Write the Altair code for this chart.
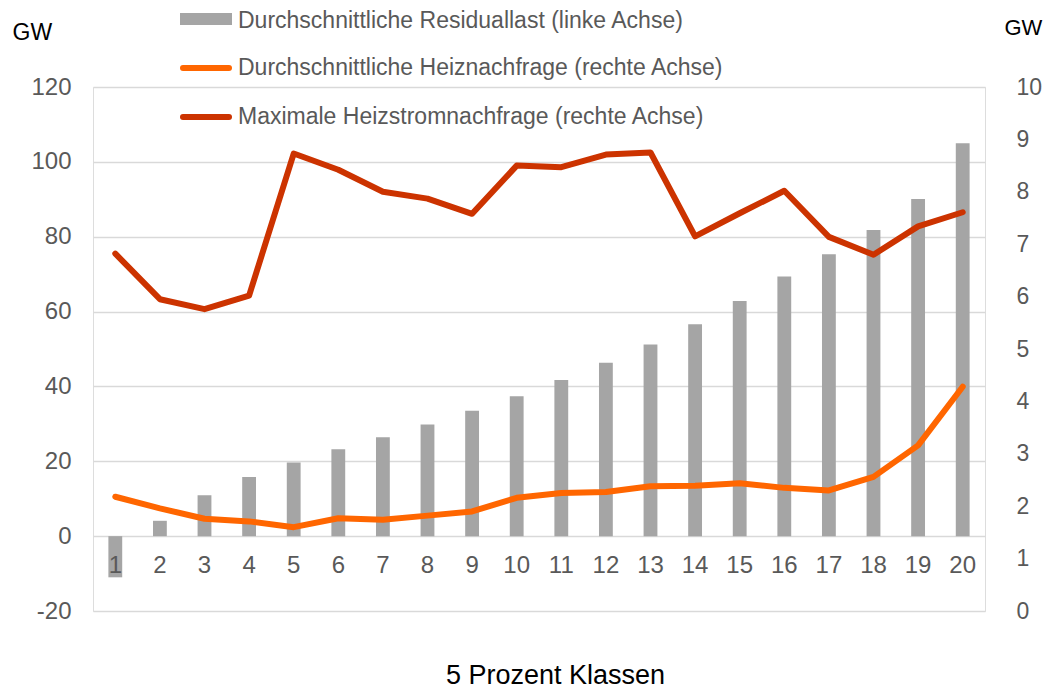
import altair as alt
import pandas as pd

# ---- data ----
classes = list(range(1, 21))
residual_load = [-11.0, 4.1, 10.9, 15.8, 19.7, 23.2, 26.4, 29.8, 33.5, 37.4,
                 41.7, 46.3, 51.2, 56.6, 62.8, 69.4, 75.3, 81.8, 90.1, 105.0]
heat_avg = [2.18, 1.96, 1.76, 1.71, 1.60, 1.77, 1.74, 1.82, 1.90, 2.16,
            2.25, 2.27, 2.38, 2.39, 2.44, 2.35, 2.30, 2.56, 3.16, 4.28]
heat_max = [6.82, 5.95, 5.76, 6.02, 8.73, 8.42, 8.00, 7.87, 7.58, 8.50,
            8.47, 8.71, 8.75, 7.15, 7.59, 8.02, 7.14, 6.80, 7.34, 7.61]
left_ticks = [-20, 0, 20, 40, 60, 80, 100, 120]
right_ticks = list(range(0, 11))

name_bar = "Durchschnittliche Residuallast (linke Achse)"
name_avg = "Durchschnittliche Heiznachfrage (rechte Achse)"
name_max = "Maximale Heizstromnachfrage (rechte Achse)"

C_BAR = "#A5A5A5"
C_AVG = "#FF6600"
C_MAX = "#CC3300"
FONT = "Liberation Sans"
GRAY = "#595959"

bars_df = pd.DataFrame({"cls": classes, "residual": residual_load})
lines_df = pd.DataFrame({
    "cls": classes * 2,
    "value": heat_avg + heat_max,
    "series": [name_avg] * 20 + [name_max] * 20,
})

x_enc = alt.X(
    "cls:O",
    scale=alt.Scale(paddingInner=0.69, paddingOuter=0.345),
    axis=alt.Axis(
        title="5 Prozent Klassen", labelAngle=0, labelFontSize=24, labelColor=GRAY,
        labelFont=FONT, domain=False, ticks=False, tickSize=0, labelPadding=29,
        labelBaseline="middle", offset=-75, zindex=1, grid=False,
        titleFont=FONT, titleFontSize=27, titleFontWeight="normal", titleColor="#000000",
        titleX=462, titleY=147, titleBaseline="alphabetic", titleAlign="center",
    ),
)

bars = alt.Chart(bars_df).mark_bar(color=C_BAR).encode(
    x=x_enc,
    y=alt.Y(
        "residual:Q",
        scale=alt.Scale(domain=[-20, 120], nice=False),
        axis=alt.Axis(
            values=left_ticks, title="GW", titleAngle=0, titleAlign="left",
            titleBaseline="middle", titleX=-81, titleY=-55, titleFont=FONT,
            titleFontSize=23, titleFontWeight="normal", titleColor="#000000",
            labelFont=FONT, labelFontSize=24, labelColor=GRAY, labelPadding=22,
            labelExpr="'' + datum.value",
            domain=False, ticks=False, tickSize=0, grid=True, gridColor="#D9D9D9",
            gridWidth=1.3,
        ),
    ),
)

lines = alt.Chart(lines_df).mark_line(strokeWidth=6, strokeCap="round", strokeJoin="round").encode(
    x=alt.X("cls:O"),
    y=alt.Y(
        "value:Q",
        scale=alt.Scale(domain=[0, 10], nice=False),
        axis=alt.Axis(
            orient="right", values=right_ticks, title="GW", titleAngle=0,
            titleAlign="left", titleBaseline="middle", titleX=19, titleY=-60,
            titleFont=FONT, titleFontSize=22, titleFontWeight="normal",
            titleColor="#000000", labelFont=FONT, labelFontSize=23,
            labelColor=GRAY, labelPadding=31, domain=False, ticks=False,
            tickSize=0, grid=False,
        ),
    ),
    color=alt.Color("series:N", scale=alt.Scale(domain=[name_avg, name_max],
                                                range=[C_AVG, C_MAX]), legend=None),
    detail="series:N",
)

# ---- manual legend ----
one = pd.DataFrame({"k": [0]})
leg_rect = alt.Chart(one).mark_rect(color=C_BAR).encode(
    x=alt.value(87), x2=alt.value(139), y=alt.value(-74), y2=alt.value(-62))
leg_avg = alt.Chart(one).mark_rule(color=C_AVG, strokeWidth=6, strokeCap="round").encode(
    x=alt.value(90), x2=alt.value(136), y=alt.value(-19))
leg_max = alt.Chart(one).mark_rule(color=C_MAX, strokeWidth=6, strokeCap="round").encode(
    x=alt.value(90), x2=alt.value(136), y=alt.value(30))
leg_texts = []
for label, yy in [(name_bar, -66.5), (name_avg, -19), (name_max, 30)]:
    leg_texts.append(
        alt.Chart(one).mark_text(text=label, align="left", baseline="middle",
                                 font=FONT, fontSize=23, color=GRAY).encode(
            x=alt.value(145), y=alt.value(yy))
    )

chart = alt.layer(
    bars, lines, leg_rect, leg_avg, leg_max, *leg_texts
).resolve_scale(y="independent").properties(
    width=892, height=524,
    padding={"left": 85, "top": 79, "right": 60, "bottom": 80},
    autosize=alt.AutoSizeParams(type="none"),
).configure_view(stroke=None).configure(background="white")

chart.save("out.html", embed_options={"renderer": "svg", "actions": False})
